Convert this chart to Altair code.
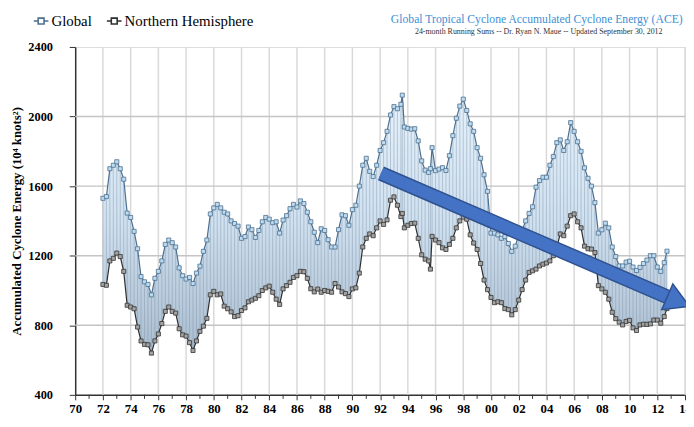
import json
import altair as alt
import pandas as pd

# ---------------- data ----------------
years = [
    1972.0, 1972.25, 1972.5, 1972.75, 1973.0, 1973.25, 1973.5, 1973.75,
    1974.0, 1974.25, 1974.5, 1974.75, 1975.0, 1975.25, 1975.5, 1975.75,
    1976.0, 1976.25, 1976.5, 1976.75, 1977.0, 1977.25, 1977.5, 1977.75,
    1978.0, 1978.25, 1978.5, 1978.75, 1979.0, 1979.25, 1979.5, 1979.75,
    1980.0, 1980.25, 1980.5, 1980.75, 1981.0, 1981.25, 1981.5, 1981.75,
    1982.0, 1982.25, 1982.5, 1982.75, 1983.0, 1983.25, 1983.5, 1983.75,
    1984.0, 1984.25, 1984.5, 1984.75, 1985.0, 1985.25, 1985.5, 1985.75,
    1986.0, 1986.25, 1986.5, 1986.75, 1987.0, 1987.25, 1987.5, 1987.75,
    1988.0, 1988.25, 1988.5, 1988.75, 1989.0, 1989.25, 1989.5, 1989.75,
    1990.0, 1990.25, 1990.5, 1990.75, 1991.0, 1991.25, 1991.5, 1991.75,
    1992.0, 1992.25, 1992.5, 1992.75, 1993.0, 1993.25, 1993.5, 1993.6, 1993.75,
    1994.0, 1994.25, 1994.5, 1994.75, 1995.0, 1995.25, 1995.5, 1995.63, 1995.75,
    1996.0, 1996.25, 1996.5, 1996.75, 1997.0, 1997.25, 1997.5, 1997.75,
    1998.0, 1998.25, 1998.5, 1998.75, 1999.0, 1999.25, 1999.5, 1999.75,
    2000.0, 2000.25, 2000.5, 2000.75, 2001.0, 2001.25, 2001.5, 2001.75,
    2002.0, 2002.25, 2002.5, 2002.75, 2003.0, 2003.25, 2003.5, 2003.75,
    2004.0, 2004.25, 2004.5, 2004.75, 2005.0, 2005.25, 2005.5, 2005.75,
    2006.0, 2006.25, 2006.5, 2006.75, 2007.0, 2007.25, 2007.5, 2007.75,
    2008.0, 2008.25, 2008.5, 2008.75, 2009.0, 2009.25, 2009.5, 2009.75,
    2010.0, 2010.25, 2010.5, 2010.75, 2011.0, 2011.25, 2011.5, 2011.75,
    2012.0, 2012.25, 2012.5, 2012.7,
]

global_ace = [
    1530, 1540, 1700, 1720, 1740, 1700, 1640, 1445,
    1420, 1340, 1240, 1080, 1050, 1035, 975, 1070,
    1110, 1170, 1265, 1290, 1275, 1250, 1130, 1085,
    1066, 1075, 1040, 1100, 1140, 1225, 1290, 1440,
    1475, 1495, 1475, 1450, 1440, 1400, 1385, 1370,
    1300, 1310, 1365, 1350, 1305, 1345, 1395, 1420,
    1410, 1390, 1395, 1330, 1405, 1430, 1470, 1495,
    1480, 1515, 1500, 1450, 1395, 1335, 1275, 1355,
    1345, 1292, 1250, 1250, 1350, 1435, 1430, 1375,
    1465, 1490, 1600, 1720, 1760, 1685, 1655, 1720,
    1805, 1850, 1915, 2009, 2057, 2045, 2070, 2123, 1940,
    1932, 1928, 1930, 1860, 1745, 1692, 1679, 1700, 1821,
    1689, 1698, 1706, 1690, 1775, 1890, 1990, 2060,
    2100, 2035, 1958, 1915, 1821, 1760, 1665, 1570,
    1330, 1330, 1320, 1300, 1310, 1270, 1225, 1255,
    1320, 1345, 1400, 1443, 1481, 1594, 1632, 1651,
    1651, 1720, 1770, 1850, 1866, 1805, 1855, 1965,
    1915, 1855, 1800, 1705, 1645, 1600, 1505, 1330,
    1349, 1387, 1360, 1250, 1195, 1141, 1141, 1163,
    1168, 1135, 1115, 1133, 1155, 1175, 1200, 1200,
    1135, 1110, 1160, 1226,
]

nh_ace = [
    1035, 1030, 1170, 1185, 1215, 1195, 1110, 915,
    905, 895, 790, 710, 690, 688, 640, 710,
    750, 810, 880, 905, 880, 870, 780, 745,
    738, 700, 655, 710, 765, 795, 840, 975,
    995, 975, 980, 910, 895, 877, 850, 855,
    885, 900, 935, 945, 955, 970, 1000, 1015,
    1025, 990, 950, 920, 1009, 1028, 1047, 1075,
    1085, 1110, 1108, 1070, 1010, 992, 1008, 990,
    1000, 995, 990, 1040, 1020, 992, 982, 965,
    1009, 1015, 1100, 1250, 1300, 1325, 1315, 1360,
    1400, 1380, 1406, 1519, 1538, 1490, 1425, 1443, 1360,
    1375, 1385, 1387, 1300, 1205, 1180, 1170, 1123, 1311,
    1290, 1275, 1245, 1236, 1265, 1300, 1360, 1400,
    1422, 1410, 1320, 1273, 1236, 1155, 1060, 1005,
    960, 930, 935, 930, 896, 890, 860, 890,
    945, 1005, 1060, 1104, 1113, 1123, 1141, 1151,
    1158, 1170, 1200, 1250, 1325, 1315, 1370, 1430,
    1440, 1395, 1360, 1255, 1240, 1238, 1218, 1028,
    1009, 990, 950, 875, 838, 818, 802, 822,
    828, 785, 770, 802, 806, 805, 808, 830,
    830, 812, 850, 896,
]

series_names = ["Global", "Northern Hemisphere"]

# trend arrow (annotation drawn in data units)
arrow_years = [1992.06, 2012.79]
arrow_values = [1673, 961]
arrow_head_year = [2013.52]
arrow_head_value = [936]

x_tick_years = [1970, 1972, 1974, 1976, 1978, 1980, 1982, 1984, 1986, 1988, 1990,
                1992, 1994, 1996, 1998, 2000, 2002, 2004, 2006, 2008, 2010, 2012, 2014]
x_tick_labels = ["70", "72", "74", "76", "78", "80", "82", "84", "86", "88", "90",
                 "92", "94", "96", "98", "00", "02", "04", "06", "08", "10", "12", "14"]
x_minor_ticks = [1971, 1973, 1975, 1977, 1979, 1981, 1983, 1985, 1987, 1989, 1991,
                 1993, 1995, 1997, 1999, 2001, 2003, 2005, 2007, 2009, 2011, 2013]
y_ticks = [400, 800, 1200, 1600, 2000, 2400]
y_grid = [800, 1200, 1600, 2000]

TITLE = "Global Tropical Cyclone Accumulated Cyclone Energy (ACE)"
SUBTITLE = "24-month Running Sums -- Dr. Ryan N. Maue -- Updated September 30, 2012"
Y_TITLE = "Accumulated Cyclone Energy (10\u2074 knots\u00b2)"

# ---------------- tables ----------------
df = pd.DataFrame({"year": years, "glob": global_ace, "nh": nh_ace})
long_df = pd.concat([
    pd.DataFrame({"year": years, "ace": global_ace, "series": series_names[0]}),
    pd.DataFrame({"year": years, "ace": nh_ace, "series": series_names[1]}),
])
arrow_df = pd.DataFrame({"year": arrow_years, "ace": arrow_values})
head_df = pd.DataFrame({"year": arrow_head_year, "ace": arrow_head_value})
vgrid_df = pd.DataFrame({"year": x_tick_years[1:]})
minor_df = pd.DataFrame({"year": x_minor_ticks})
hgrid_df = pd.DataFrame({"ace": y_grid})
title_df = pd.DataFrame({"t": [TITLE]})
subtitle_df = pd.DataFrame({"t": [SUBTITLE]})

W, H = 617, 352
SERIF = "Liberation Serif"
xscale = alt.Scale(domain=[1970, 2014], nice=False, zero=False)
yscale = alt.Scale(domain=[400, 2400], nice=False, zero=False)

ty = json.dumps(x_tick_years)
tl = json.dumps(x_tick_labels)
label_expr = f"indexof({ty}, datum.value) >= 0 ? {tl}[indexof({ty}, datum.value)] : ''"

x_axis = alt.Axis(values=x_tick_years, labelExpr=label_expr, title=None, grid=False,
                  tickSize=5, tickColor="#333333", domainColor="#333333", domainWidth=1.5,
                  labelFont=SERIF, labelFontSize=13, labelFontWeight="bold",
                  labelColor="black", labelPadding=3, labelOverlap=False, labelFlush=False)
y_axis = alt.Axis(values=y_ticks, format="d", title=Y_TITLE, grid=False, tickSize=6,
                  tickColor="#333333", domainColor="#333333", domainWidth=1.5,
                  labelFont=SERIF, labelFontSize=12.5, labelFontWeight="bold",
                  labelColor="black", labelPadding=17, labelOverlap=False,
                  titleFont=SERIF, titleFontSize=13, titleFontWeight="bold",
                  titleColor="black", titlePadding=4)


def xq(field="year"):
    return alt.X(f"{field}:Q", scale=xscale, axis=x_axis)


def yq(field):
    return alt.Y(f"{field}:Q", scale=yscale, axis=y_axis)


vgrid = alt.Chart(vgrid_df).mark_rule(color="#d9d9d9", strokeWidth=1.5).encode(x=xq())
hgrid = alt.Chart(hgrid_df).mark_rule(color="#c4c4c4", strokeWidth=1.5).encode(y=yq("ace"))
minor = alt.Chart(minor_df).mark_rule(color="#333333", strokeWidth=1).encode(
    x=xq(), y=alt.value(H), y2=alt.value(H + 4))

fill = alt.Chart(df).mark_area(
    color=alt.Gradient(gradient="linear",
                       stops=[alt.GradientStop(color="#e6f2fc", offset=0),
                              alt.GradientStop(color="#cfe0ef", offset=0.5),
                              alt.GradientStop(color="#aabdcf", offset=1)],
                       x1=0, x2=0, y1=0, y2=1)
).encode(x=xq(), y=yq("glob"), y2="nh:Q")

drops = alt.Chart(df).mark_rule(color="#7d93a8", strokeWidth=0.8, opacity=0.55).encode(
    x=xq(), y=yq("nh"), y2="glob:Q")

lines = alt.Chart(long_df).mark_line(strokeWidth=1.2).encode(
    x=xq(), y=yq("ace"),
    color=alt.Color("series:N",
                    scale=alt.Scale(domain=series_names, range=["#4c6f8f", "#2e2e2e"]),
                    legend=alt.Legend(orient="none", legendX=-43, legendY=-35,
                                      direction="horizontal", title=None,
                                      symbolType="M-1,0L-0.4,0M0.4,0L1,0M-0.4,-0.4L0.4,-0.4L0.4,0.4L-0.4,0.4Z",
                                      symbolSize=220, symbolStrokeWidth=1.6,
                                      symbolFillColor="white",
                                      labelFont=SERIF, labelFontSize=15,
                                      labelColor="black", labelOffset=2,
                                      columnPadding=11)),
    detail="series:N",
)

pts_nh = alt.Chart(df).mark_point(shape="square", size=17, filled=True, fill="#a3a3a3",
                                  stroke="#333333", strokeWidth=0.8, opacity=1).encode(
    x=xq(), y=yq("nh"))
pts_gl = alt.Chart(df).mark_point(shape="square", size=17, filled=True, fill="#bcdcf3",
                                  stroke="#4f6f8c", strokeWidth=0.8, opacity=1).encode(
    x=xq(), y=yq("glob"))

shaft_out = alt.Chart(arrow_df).mark_line(color="#2f528f", strokeWidth=15, strokeCap="butt").encode(
    x=xq(), y=yq("ace"))
shaft_in = alt.Chart(arrow_df).mark_line(color="#4472c4", strokeWidth=12, strokeCap="butt").encode(
    x=xq(), y=yq("ace"))
head = alt.Chart(head_df).mark_point(shape="triangle-right", size=800, filled=True,
                                     fill="#4472c4", stroke="#2f528f", strokeWidth=1.5,
                                     angle=23.5, opacity=1).encode(
    x=xq(), y=yq("ace"))

title_txt = alt.Chart(title_df).mark_text(font=SERIF, fontSize=11.8, color="#3d8fd6",
                                          align="center", baseline="alphabetic").encode(
    text="t:N", x=alt.value(467), y=alt.value(-24))
subtitle_txt = alt.Chart(subtitle_df).mark_text(font=SERIF, fontSize=8, color="#333333",
                                                align="center", baseline="alphabetic").encode(
    text="t:N", x=alt.value(469), y=alt.value(-13))

chart = alt.layer(
    vgrid, hgrid, fill, drops, lines, pts_nh, pts_gl, minor,
    shaft_out, shaft_in, head, title_txt, subtitle_txt
).properties(
    width=W, height=H,
    autosize=alt.AutoSizeParams(type="none"),
    padding={"left": 68, "top": 37, "right": 1, "bottom": 22},
).configure_view(stroke=None).configure_axis(labelOverlap=False).configure(background="white")

chart.save("out.html", embed_options={"renderer": "svg", "actions": False})
